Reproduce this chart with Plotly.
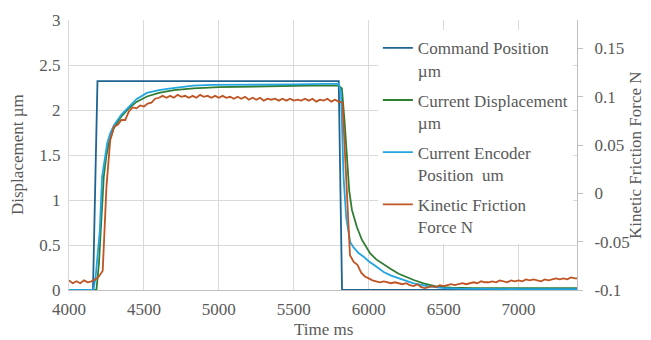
import plotly.graph_objects as go

# ---------------- data ----------------
cmd_t = [4000, 4160, 4190, 5800, 5822, 7400]
cmd_v = [0, 0, 2.32, 2.32, 0, 0]

disp_t = [4000, 4183, 4200, 4215, 4232, 4250, 4270, 4300, 4350, 4400, 4450, 4520, 4600, 4700,
          4830, 5000, 5300, 5600, 5800, 5821, 5840, 5855, 5870, 5888, 5921, 5955, 5988, 6010,
          6050, 6100, 6150, 6200, 6250, 6300, 6366, 6455, 6550, 6700, 7000, 7400]
disp_v = [0, 0, 0.30, 0.75, 1.26, 1.50, 1.66, 1.80, 1.93, 2.02, 2.09, 2.15, 2.19, 2.22,
          2.24, 2.255, 2.265, 2.27, 2.27, 2.24, 1.85, 1.44, 1.10, 0.89, 0.70, 0.556, 0.47, 0.407,
          0.34, 0.28, 0.23, 0.18, 0.145, 0.111, 0.074, 0.037, 0.025, 0.02, 0.02, 0.02]

enc_t = [4000, 4163, 4178, 4192, 4205, 4221, 4240, 4255, 4275, 4300, 4350, 4400, 4450, 4520,
         4600, 4680, 4760, 4830, 4950, 5100, 5300, 5500, 5700, 5800, 5815, 5832, 5850, 5877,
         5900, 5932, 5966, 6000, 6050, 6100, 6150, 6200, 6300, 6400, 6500, 6600, 6800, 7000,
         7200, 7400]
enc_v = [0, 0, 0.15, 0.40, 0.65, 1.26, 1.50, 1.63, 1.74, 1.83, 1.95, 2.04, 2.12, 2.19,
         2.22, 2.24, 2.26, 2.27, 2.28, 2.28, 2.28, 2.285, 2.29, 2.29, 2.20, 1.26, 0.80, 0.53,
         0.47, 0.41, 0.37, 0.32, 0.26, 0.20, 0.16, 0.13, 0.074, 0.04, 0.02, 0.015, 0.01, 0.01,
         0.01, 0.01]

fric_t = list(range(4000, 7401, 25))
fric_v = [
    -0.090, -0.093, -0.091, -0.093, -0.090, -0.092, -0.091, -0.089,
    -0.086, -0.080, 0.007, 0.055, 0.069, 0.071, 0.076, 0.076,
    0.085, 0.089, 0.088, 0.091, 0.090, 0.093, 0.094, 0.098,
    0.099, 0.101, 0.099, 0.101, 0.099, 0.102, 0.100, 0.101,
    0.099, 0.101, 0.099, 0.102, 0.100, 0.101, 0.099, 0.101,
    0.099, 0.101, 0.099, 0.100, 0.098, 0.100, 0.098, 0.100,
    0.097, 0.099, 0.097, 0.099, 0.096, 0.098, 0.097, 0.098,
    0.096, 0.098, 0.096, 0.098, 0.096, 0.097, 0.096, 0.098,
    0.096, 0.098, 0.095, 0.097, 0.096, 0.098, 0.095, 0.097,
    0.095, 0.094, 0.015, -0.064, -0.071, -0.074, -0.082, -0.086,
    -0.088, -0.090, -0.091, -0.092, -0.091, -0.092, -0.093, -0.092,
    -0.093, -0.094, -0.093, -0.095, -0.096, -0.094, -0.097, -0.098,
    -0.097, -0.096, -0.097, -0.095, -0.096, -0.095, -0.094, -0.095,
    -0.094, -0.093, -0.094, -0.093, -0.092, -0.093, -0.091, -0.092,
    -0.092, -0.091, -0.092, -0.090, -0.091, -0.092, -0.090, -0.091,
    -0.090, -0.091, -0.089, -0.090, -0.089, -0.090, -0.091, -0.089,
    -0.090, -0.089, -0.088, -0.089, -0.088, -0.089, -0.087, -0.088,
    -0.088,
]

series_names = ["Command Position<br>µm", "Current Displacement<br>µm",
                "Current Encoder<br>Position\u00a0 um", "Kinetic Friction<br>Force N"]

x_title = "Time ms"
y_title = "Displacement µm"
y2_title = "Kinetic Friction Force N"

x_ticks = [4000, 4500, 5000, 5500, 6000, 6500, 7000]
y_ticks = [0, 0.5, 1, 1.5, 2, 2.5, 3]
y_tick_text = ["0", "0.5", "1", "1.5", "2", "2.5", "3"]
y2_ticks = [-0.1, -0.05, 0, 0.05, 0.1, 0.15]
y2_tick_text = ["-0.1", "-0.05", "0", "0.05", "0.1", "0.15"]

# ---------------- figure ----------------
FONT = "Times New Roman, Liberation Serif, DejaVu Serif, serif"
GRAY = "#595959"
GRID = "#d9d9d9"
LW = 1.8
F = dict(family=FONT, size=17, color=GRAY)

fig = go.Figure()
fig.add_trace(go.Scatter(x=cmd_t, y=cmd_v, mode="lines", name=series_names[0],
                         line=dict(color="#1f6391", width=LW), legendgroup="a"))
fig.add_trace(go.Scatter(x=disp_t, y=disp_v, mode="lines", name=series_names[1],
                         line=dict(color="#2e7d32", width=LW), legendgroup="b"))
fig.add_trace(go.Scatter(x=enc_t, y=enc_v, mode="lines", name=series_names[2],
                         line=dict(color="#22a5e0", width=LW), legendgroup="c"))
fig.add_trace(go.Scatter(x=fric_t, y=fric_v, mode="lines", name=series_names[3],
                         line=dict(color="#bf5424", width=LW), legendgroup="d", yaxis="y2"))

# page body has an 8px margin, so the figure is drawn 8px in from the window's corner
fig.update_layout(
    width=643, height=332,
    margin=dict(l=61, r=74, t=12, b=50, autoexpand=False),
    paper_bgcolor="white", plot_bgcolor="white",
    font=F,
    showlegend=True,
    legend=dict(x=0.608, y=0.962, xanchor="left", yanchor="top",
                bgcolor="white", borderwidth=0, valign="top",
                tracegroupgap=5, font=F),
    xaxis=dict(range=[4000, 7390], tickvals=x_ticks, showgrid=True, gridcolor=GRID,
               gridwidth=1, showline=True, linecolor="#bfbfbf", linewidth=1,
               zeroline=False, ticks="", automargin=False, tickfont=F,
               ticklabelstandoff=4),
    yaxis=dict(range=[0, 3], tickvals=y_ticks, ticktext=y_tick_text, showgrid=True,
               gridcolor=GRID, gridwidth=1, zeroline=False, showline=True,
               linecolor=GRID, ticks="outside", ticklen=4, tickcolor="rgba(0,0,0,0)",
               automargin=False, tickfont=F),
    yaxis2=dict(range=[-0.1, 0.1795], overlaying="y", side="right",
                tickvals=y2_ticks, ticktext=y2_tick_text, showgrid=False, zeroline=False,
                showline=True, linecolor="#bfbfbf", linewidth=1, ticks="outside",
                ticklen=5, tickcolor="#bfbfbf", ticklabelstandoff=8, automargin=False,
                tickfont=F),
    annotations=[
        dict(text=x_title, xref="paper", yref="paper", x=0.5, y=0, xanchor="center",
             yanchor="middle", yshift=-39, showarrow=False, font=F),
        dict(text=y_title, xref="paper", yref="paper", x=0, y=0.5, xanchor="center",
             yanchor="middle", xshift=-52, textangle=-90, showarrow=False, font=F),
        dict(text=y2_title, xref="paper", yref="paper", x=1, y=0.5, xanchor="center",
             yanchor="middle", xshift=58, textangle=-90, showarrow=False, font=F),
    ],
)

fig.write_html("out.html")
